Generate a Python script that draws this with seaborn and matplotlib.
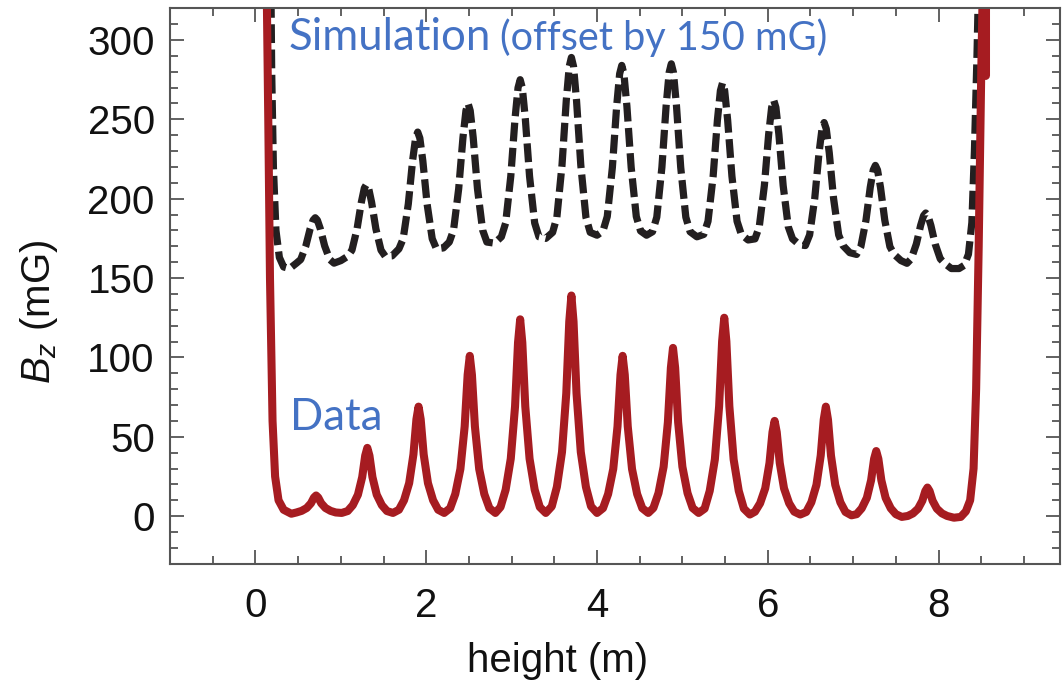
import numpy as np
import pandas as pd
import seaborn as sns
import matplotlib.pyplot as plt

data_x = [0.13, 0.15, 0.17, 0.20, 0.23, 0.27, 0.33, 0.42,
          0.48, 0.54, 0.60, 0.65, 0.685, 0.71, 0.735, 0.77, 0.82, 0.88, 0.94, 1.01,
          1.08, 1.14, 1.20, 1.25, 1.285, 1.31, 1.335, 1.37, 1.42, 1.48, 1.54, 1.61,
          1.68, 1.74, 1.80, 1.85, 1.885, 1.91, 1.935, 1.97, 2.02, 2.08, 2.14, 2.21,
          2.28, 2.34, 2.40, 2.45, 2.485, 2.51, 2.535, 2.57, 2.62, 2.68, 2.74, 2.81,
          2.87, 2.93, 2.99, 3.04, 3.075, 3.10, 3.125, 3.16, 3.21, 3.27, 3.33, 3.40,
          3.47, 3.53, 3.59, 3.64, 3.675, 3.70, 3.725, 3.76, 3.81, 3.87, 3.93, 4.00,
          4.07, 4.13, 4.19, 4.24, 4.275, 4.30, 4.325, 4.36, 4.41, 4.47, 4.53, 4.60,
          4.66, 4.72, 4.78, 4.83, 4.865, 4.89, 4.915, 4.95, 5.00, 5.06, 5.12, 5.19,
          5.26, 5.32, 5.38, 5.43, 5.465, 5.49, 5.515, 5.55, 5.60, 5.66, 5.72, 5.79,
          5.85, 5.91, 5.97, 6.02, 6.055, 6.08, 6.105, 6.14, 6.19, 6.25, 6.31, 6.38,
          6.45, 6.51, 6.57, 6.62, 6.655, 6.68, 6.705, 6.74, 6.79, 6.85, 6.91, 6.98,
          7.04, 7.10, 7.16, 7.21, 7.245, 7.27, 7.295, 7.33, 7.38, 7.44, 7.50, 7.57,
          7.64, 7.70, 7.76, 7.81, 7.845, 7.87, 7.895, 7.93, 7.98, 8.04, 8.10,
          8.18, 8.26, 8.32, 8.37, 8.41, 8.44, 8.47, 8.50, 8.52]
data_y = [340, 250, 150, 60, 25, 10, 4, 1.5,
          2.3, 3.3, 5.1, 8.1, 11.7, 13, 11.7, 8.1, 5.1, 3.3, 2.3, 2,
          3.2, 6.9, 13.5, 24.6, 38.1, 43, 38.1, 24.6, 13.5, 6.9, 3.2, 2,
          4.0, 10.0, 20.8, 38.9, 61.0, 69, 61.0, 38.9, 20.8, 10.0, 4.0, 2,
          5.0, 13.9, 29.7, 56.5, 89.1, 101, 89.1, 56.5, 29.7, 13.9, 5.0, 2,
          5.7, 16.6, 36.2, 69.1, 109.4, 124, 109.4, 69.1, 36.2, 16.6, 5.7, 2,
          6.1, 18.4, 40.4, 77.4, 122.6, 139, 122.6, 77.4, 40.4, 18.4, 6.1, 2,
          5.0, 13.9, 29.7, 56.5, 89.1, 101, 89.1, 56.5, 29.7, 13.9, 5.0, 2,
          5.1, 14.5, 31.1, 59.2, 93.5, 106, 93.5, 59.2, 31.1, 14.5, 5.1, 2,
          4.7, 15.9, 35.7, 69.2, 110.1, 125, 110.1, 69.2, 35.7, 15.9, 4.7, 1,
          2.8, 8.1, 17.5, 33.5, 52.9, 60, 52.9, 33.5, 17.5, 8.1, 2.8, 1,
          2.6, 8.7, 19.7, 38.2, 60.8, 69, 60.8, 38.2, 19.7, 8.7, 2.6, 0.5,
          1.2, 4.9, 11.5, 22.6, 36.1, 41, 36.1, 22.6, 11.5, 4.9, 1.2, -0.5,
          0.1, 1.7, 4.7, 9.7, 15.8, 18, 15.8, 9.7, 4.7, 1.7, 0.1,
          -1, -0.5, 3, 10, 30, 80, 170, 280, 340]

# thicker red stub at the top of the right wall
cap_x = [8.545, 8.545]
cap_y = [278, 330]

# simulation trace (black, dashed), already offset by 150 mG
sim_x = [0.18, 0.19, 0.21, 0.24, 0.28, 0.33, 0.40,
         0.48, 0.53, 0.59, 0.64, 0.675, 0.70, 0.725, 0.76, 0.81, 0.87, 0.92, 1.00,
         1.08, 1.13, 1.19, 1.24, 1.275, 1.30, 1.325, 1.36, 1.41, 1.47, 1.52, 1.60,
         1.68, 1.73, 1.79, 1.84, 1.875, 1.90, 1.925, 1.96, 2.01, 2.07, 2.12, 2.20,
         2.27, 2.32, 2.38, 2.43, 2.465, 2.49, 2.515, 2.55, 2.60, 2.66, 2.71, 2.80,
         2.88, 2.93, 2.99, 3.04, 3.075, 3.10, 3.125, 3.16, 3.21, 3.27, 3.32, 3.40,
         3.48, 3.53, 3.59, 3.64, 3.675, 3.70, 3.725, 3.76, 3.81, 3.87, 3.92, 4.00,
         4.07, 4.12, 4.18, 4.23, 4.265, 4.29, 4.315, 4.35, 4.40, 4.46, 4.51, 4.58,
         4.65, 4.70, 4.76, 4.81, 4.845, 4.87, 4.895, 4.93, 4.98, 5.04, 5.09, 5.17,
         5.25, 5.30, 5.36, 5.41, 5.445, 5.47, 5.495, 5.53, 5.58, 5.64, 5.69, 5.77,
         5.85, 5.90, 5.96, 6.01, 6.045, 6.07, 6.095, 6.13, 6.18, 6.24, 6.29, 6.37,
         6.44, 6.49, 6.55, 6.60, 6.635, 6.66, 6.685, 6.72, 6.77, 6.83, 6.88, 6.96,
         7.04, 7.09, 7.15, 7.20, 7.235, 7.26, 7.285, 7.32, 7.37, 7.43, 7.48, 7.56,
         7.63, 7.68, 7.74, 7.79, 7.825, 7.85, 7.875, 7.91, 7.96, 8.02, 8.07, 8.15,
         8.24, 8.30, 8.35, 8.39, 8.42, 8.45, 8.47]
sim_y = [340, 280, 220, 180, 163, 157, 156,
         159.4, 161.7, 170.3, 181, 186.5, 188, 186.5, 181, 170.3, 161.7, 159.4, 161,
         163.7, 167.6, 181.1, 197.8, 206.7, 209, 206.7, 197.8, 181.1, 167.6, 163.7, 164,
         168.4, 174.8, 196.7, 223.9, 238.2, 242, 238.2, 223.9, 196.7, 174.8, 168.4, 169,
         172.7, 180.3, 206.3, 238.5, 255.5, 260, 255.5, 238.5, 206.3, 180.3, 172.7, 172,
         176.0, 184.7, 214.1, 250.6, 269.9, 275, 269.9, 250.6, 214.1, 184.7, 176.0, 175,
         178.8, 188.4, 221.2, 261.9, 283.4, 289, 283.4, 261.9, 221.2, 188.4, 178.8, 177,
         179.7, 188.8, 219.8, 258.3, 278.7, 284, 278.7, 258.3, 219.8, 188.8, 179.7, 177,
         179.2, 188.4, 219.9, 259, 279.6, 285, 279.6, 259, 219.9, 188.4, 179.2, 176,
         177.5, 185.8, 214.2, 249.5, 268.1, 273, 268.1, 249.5, 214.2, 185.8, 177.5, 174,
         174.7, 182.3, 208.3, 240.5, 257.5, 262, 257.5, 240.5, 208.3, 182.3, 174.7, 171,
         170.5, 177.2, 200.3, 228.9, 244, 248, 244, 228.9, 200.3, 177.2, 170.5, 166,
         164.9, 169.8, 186.5, 207.2, 218.1, 221, 218.1, 207.2, 186.5, 169.8, 164.9, 161,
         159.3, 162.1, 171.5, 183.2, 189.4, 191, 189.4, 183.2, 171.5, 162.1, 159.3, 156,
         156, 158, 165, 185, 230, 290, 340]

x_ticks = [0, 2, 4, 6, 8]
y_ticks = [0, 50, 100, 150, 200, 250, 300]

sns.set_theme(style="ticks")
plt.rcParams['font.family'] = ['Liberation Sans', 'DejaVu Sans']
plt.rcParams['mathtext.fontset'] = 'custom'
plt.rcParams['mathtext.rm'] = 'Liberation Sans'
plt.rcParams['mathtext.it'] = 'Liberation Sans:italic'

fig = plt.figure(figsize=(10.63, 6.90), dpi=100)
ax = fig.add_axes([0.160, 0.183, 0.837, 0.805])

df_sim = pd.DataFrame({'x': sim_x, 'y': sim_y})
df_data = pd.DataFrame({'x': data_x, 'y': data_y})
df_cap = pd.DataFrame({'x': cap_x, 'y': cap_y})

red = '#a61c21'
sns.lineplot(data=df_sim, x='x', y='y', sort=False, estimator=None, ax=ax,
             color='#231f20', lw=5.2, linestyle=(0, (2.6, 0.9)))
sns.lineplot(data=df_data, x='x', y='y', sort=False, estimator=None, ax=ax,
             color=red, lw=5.8, solid_joinstyle='round')
sns.lineplot(data=df_cap, x='x', y='y', sort=False, estimator=None, ax=ax,
             color=red, lw=6.5)

ax.set_xlim(-1, 9.42)
ax.set_ylim(-30, 320)
ax.set_xticks(x_ticks)
ax.set_yticks(y_ticks)
ax.set_xticks(np.arange(-0.5, 9.5, 0.5), minor=True)
ax.set_yticks(np.arange(-20, 320, 10), minor=True)
ax.tick_params(which='both', direction='in', top=True, right=True,
               color='#555555', width=1.3, labelsize=29,
               labelcolor='#111111')
ax.tick_params(axis='x', which='both', pad=17)
ax.tick_params(axis='y', which='both', pad=11)
ax.tick_params(which='major', length=10)
ax.tick_params(which='minor', length=6)
for s in ax.spines.values():
    s.set_color('#555555')
    s.set_linewidth(1.5)

ax.set_xlabel('height (m)', fontsize=29, color='#111111', labelpad=12, x=0.435)
ax.set_ylabel('$B_z$ (mG)', fontsize=29, color='#111111', labelpad=20, y=0.453)

blue = '#4472c4'
ax.text(0.133, 0.924, 'Simulation', transform=ax.transAxes, color=blue,
        fontsize=31.5, family='Lato', va='baseline', ha='left')
ax.text(0.371, 0.924, '(offset by 150 mG)', transform=ax.transAxes, color=blue,
        fontsize=28.5, family='Lato', va='baseline', ha='left')
ax.text(0.135, 0.241, 'Data', transform=ax.transAxes, color=blue,
        fontsize=31.5, family='Lato', va='baseline', ha='left')

fig.savefig('out.png', dpi=100)
